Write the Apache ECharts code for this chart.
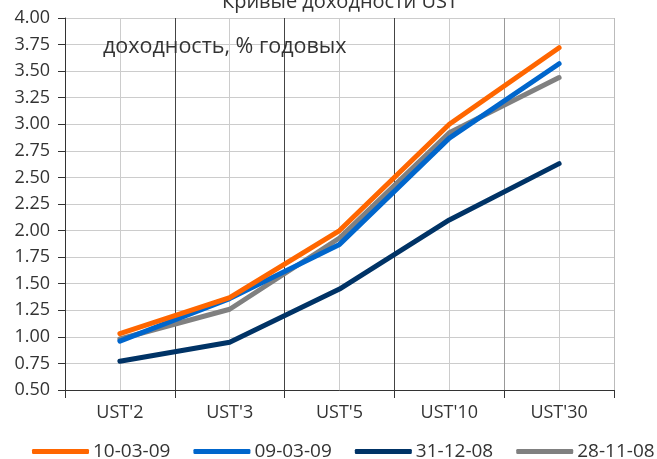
<!DOCTYPE html>
<html>
<head>
<meta charset="utf-8">
<script src="https://cdn.jsdelivr.net/npm/echarts@6/dist/echarts.min.js"></script>
<style>html,body{margin:0;padding:0;background:#fff}#c{width:657px;height:459px}</style>
</head>
<body>
<div id="c"></div>
<script>
const categories = ["UST'2", "UST'3", "UST'5", "UST'10", "UST'30"];
const s100309 = [1.03, 1.37, 2.00, 3.00, 3.72];
const s090309 = [0.96, 1.36, 1.87, 2.87, 3.57];
const s311208 = [0.77, 0.95, 1.45, 2.10, 2.63];
const s281108 = [0.98, 1.26, 1.93, 2.92, 3.44];
const seriesNames = ['10-03-09', '09-03-09', '31-12-08', '28-11-08'];
const colors = ['#FF6600', '#0066CC', '#003366', '#808080'];
const titleText = 'Кривые доходности UST';
const noteText = 'доходность, % годовых';

const font = 'Open Sans';
const chart = echarts.init(document.getElementById('c'));
const data = [s100309, s090309, s311208, s281108];
chart.setOption({
  animation: false,
  textStyle: { fontFamily: font },
  title: [
    { text: titleText, left: 335, top: -13, textAlign: 'center',
      textStyle: { fontFamily: font, fontSize: 20, fontWeight: 'normal', color: '#333' } },
    { text: noteText, left: 98, top: 31,
      textStyle: { fontFamily: font, fontSize: 21.5, fontWeight: 'normal', color: '#333' } }
  ],
  grid: { left: 65, right: 43, top: 18, bottom: 69, containLabel: false },
  legend: {
    bottom: -2, left: 32, width: 700, padding: 0, itemWidth: 57, itemHeight: 5, itemGap: 23,
    icon: 'roundRect',
    textStyle: { fontFamily: font, fontSize: 19, color: '#333', padding: [0, 0, 0, -1] },
    data: seriesNames
  },
  xAxis: [
    { type: 'category', data: categories, boundaryGap: true,
      axisLine: { lineStyle: { color: '#333', width: 1 } },
      axisTick: { show: true, length: 8, lineStyle: { color: '#333' } },
      axisLabel: { fontFamily: font, fontSize: 18, color: '#333', margin: 14 },
      splitLine: { show: false } },
    { type: 'value', min: 0, max: 10, interval: 1, position: 'top',
      axisLine: { show: false }, axisTick: { show: false }, axisLabel: { show: false },
      splitLine: { show: true, lineStyle: { width: 1,
        color: ['#444', '#ccc', '#444', '#ccc', '#444', '#ccc', '#444', '#ccc', '#999', '#ccc', '#bbb'] } } }
  ],
  yAxis: {
    type: 'value', min: 0.5, max: 4, interval: 0.25,
    axisLine: { show: true, lineStyle: { color: '#333' } },
    axisTick: { show: true, length: 7, lineStyle: { color: '#333' } },
    axisLabel: { fontFamily: font, fontSize: 18, color: '#333', margin: 15,
      formatter: v => v.toFixed(2) },
    splitLine: { show: true, lineStyle: { color: '#ccc', width: 1 } }
  },
  series: seriesNames.map((n, i) => ({
    name: n, type: 'line', data: data[i], xAxisIndex: 0,
    showSymbol: false, symbol: 'none',
    lineStyle: { color: colors[i], width: 5, cap: 'round', join: 'round' },
    itemStyle: { color: colors[i] }, z: 10 - i
  }))
});
</script>
</body>
</html>
